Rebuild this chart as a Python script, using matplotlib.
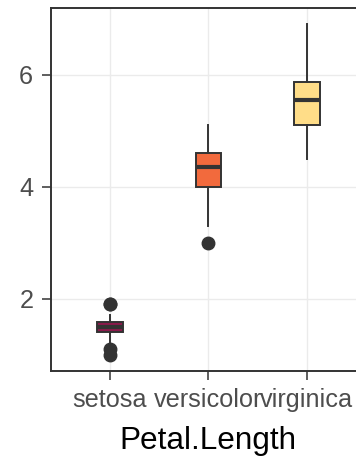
import matplotlib
matplotlib.use("Agg")
import matplotlib.pyplot as plt

species = ["setosa", "versicolor", "virginica"]
q1 = [1.4, 4.0, 5.1]
median = [1.5, 4.35, 5.55]
q3 = [1.575, 4.6, 5.875]
whisker_low = [1.2, 3.3, 4.5]
whisker_high = [1.7, 5.1, 6.9]
outliers = [[1.0, 1.1, 1.9, 1.9], [3.0], []]
fill_colors = ["#8B1A4B", "#F26A3D", "#FFDD88"]
y_ticks = [2, 4, 6]

plt.rcParams["font.family"] = ["Liberation Sans", "DejaVu Sans"]

fig = plt.figure(figsize=(3.56, 4.59), dpi=100)
ax = fig.add_axes([0.1424, 0.1917, 0.8857, 0.7909])

stats = []
for i, name in enumerate(species):
    stats.append({
        "label": name,
        "q1": q1[i], "med": median[i], "q3": q3[i],
        "whislo": whisker_low[i], "whishi": whisker_high[i],
        "fliers": outliers[i],
    })

edge = "#333333"
bp = ax.bxp(stats, positions=range(len(species)), widths=0.26,
            patch_artist=True, showcaps=False,
            boxprops=dict(edgecolor=edge, linewidth=1.4),
            whiskerprops=dict(color=edge, linewidth=1.4),
            medianprops=dict(color=edge, linewidth=3.0, solid_capstyle="butt"),
            flierprops=dict(marker="o", markerfacecolor=edge, markeredgecolor=edge,
                            markersize=9, linestyle="none"),
            zorder=3)
for patch, c in zip(bp["boxes"], fill_colors):
    patch.set_facecolor(c)

ax.set_xlim(-0.6, 2.6)
ax.set_ylim(0.705, 7.195)
ax.set_yticks(y_ticks)
ax.set_xticks(range(len(species)))
ax.set_xticklabels(species)

ax.grid(True, color="#EBEBEB", linewidth=1.0, zorder=0)
ax.set_axisbelow(True)

for side in ["left", "bottom", "top"]:
    ax.spines[side].set_color(edge)
    ax.spines[side].set_linewidth(1.4)
ax.spines["right"].set_visible(False)

ax.tick_params(axis="both", colors=edge, labelcolor="#4D4D4D", labelsize=18.2,
               length=6.5, width=1.1)
ax.tick_params(axis="x", pad=6)
ax.tick_params(axis="y", pad=6)

ax.set_xlabel("Petal.Length", fontsize=22.7, color="black", labelpad=10)

fig.savefig("out.png", dpi=100)
